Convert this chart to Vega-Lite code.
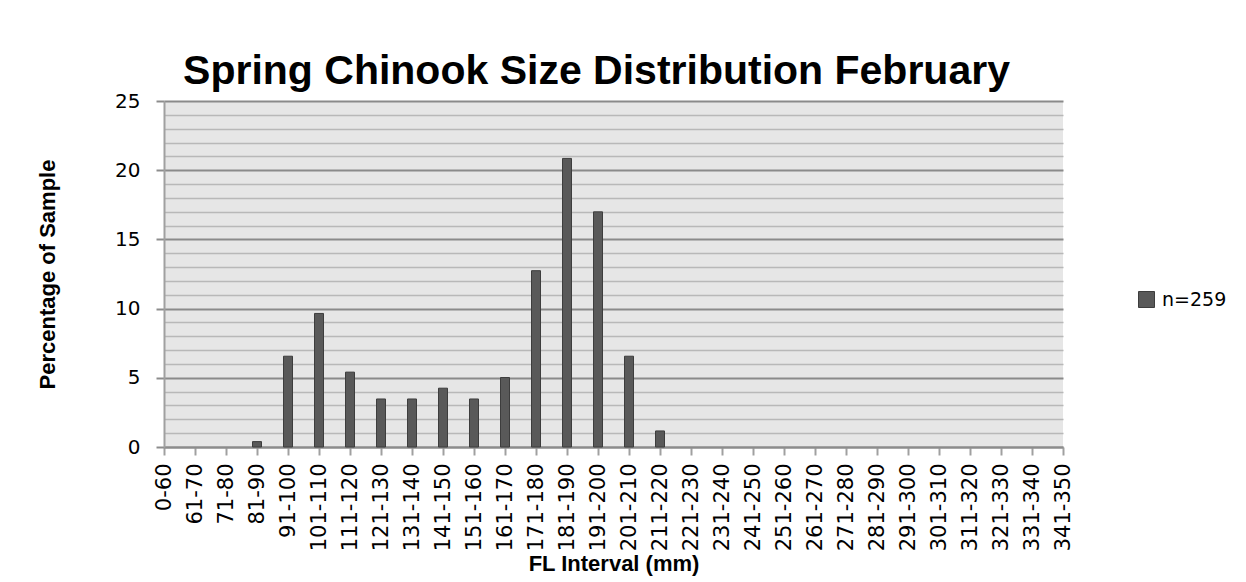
{
  "$schema": "https://vega.github.io/schema/vega-lite/v6.json",
  "width": 899,
  "height": 346,
  "autosize": {"type": "none"},
  "padding": {"left": 164, "top": 101, "right": 183, "bottom": 135},
  "background": "white",
  "title": {
    "text": "Spring Chinook Size Distribution February",
    "font": "Liberation Sans",
    "fontSize": 41,
    "fontWeight": "bold",
    "color": "#000000",
    "anchor": "middle",
    "baseline": "bottom",
    "offset": -43,
    "dx": -17
  },
  "data": {
    "values": [
      {"interval": "0-60", "pct": 0, "series": "n=259"},
      {"interval": "61-70", "pct": 0, "series": "n=259"},
      {"interval": "71-80", "pct": 0, "series": "n=259"},
      {"interval": "81-90", "pct": 0.39, "series": "n=259"},
      {"interval": "91-100", "pct": 6.56, "series": "n=259"},
      {"interval": "101-110", "pct": 9.65, "series": "n=259"},
      {"interval": "111-120", "pct": 5.41, "series": "n=259"},
      {"interval": "121-130", "pct": 3.47, "series": "n=259"},
      {"interval": "131-140", "pct": 3.47, "series": "n=259"},
      {"interval": "141-150", "pct": 4.25, "series": "n=259"},
      {"interval": "151-160", "pct": 3.47, "series": "n=259"},
      {"interval": "161-170", "pct": 5.02, "series": "n=259"},
      {"interval": "171-180", "pct": 12.74, "series": "n=259"},
      {"interval": "181-190", "pct": 20.85, "series": "n=259"},
      {"interval": "191-200", "pct": 16.99, "series": "n=259"},
      {"interval": "201-210", "pct": 6.56, "series": "n=259"},
      {"interval": "211-220", "pct": 1.16, "series": "n=259"},
      {"interval": "221-230", "pct": 0, "series": "n=259"},
      {"interval": "231-240", "pct": 0, "series": "n=259"},
      {"interval": "241-250", "pct": 0, "series": "n=259"},
      {"interval": "251-260", "pct": 0, "series": "n=259"},
      {"interval": "261-270", "pct": 0, "series": "n=259"},
      {"interval": "271-280", "pct": 0, "series": "n=259"},
      {"interval": "281-290", "pct": 0, "series": "n=259"},
      {"interval": "291-300", "pct": 0, "series": "n=259"},
      {"interval": "301-310", "pct": 0, "series": "n=259"},
      {"interval": "311-320", "pct": 0, "series": "n=259"},
      {"interval": "321-330", "pct": 0, "series": "n=259"},
      {"interval": "331-340", "pct": 0, "series": "n=259"},
      {"interval": "341-350", "pct": 0, "series": "n=259"}
    ]
  },
  "mark": {"type": "bar", "width": 9, "stroke": "#3d3d3d", "strokeWidth": 1},
  "encoding": {
    "x": {
      "field": "interval",
      "type": "nominal",
      "sort": null,
      "scale": {"type": "point", "padding": 0},
      "axis": {
        "title": "FL Interval (mm)",
        "labelAngle": -90,
        "labelFont": "DejaVu Sans",
        "labelFontSize": 21,
        "labelColor": "#000000",
        "labelPadding": 8,
        "labelOverlap": false,
        "tickSize": 8,
        "tickColor": "#a0a0a0",
        "tickWidth": 2,
        "domainColor": "#8c8c8c",
        "domainWidth": 2,
        "grid": false,
        "titleFont": "Liberation Sans",
        "titleFontWeight": "bold",
        "titleFontSize": 22,
        "titleColor": "#000000",
        "titlePadding": 3
      }
    },
    "y": {
      "field": "pct",
      "type": "quantitative",
      "scale": {"domain": [0, 25], "nice": false},
      "axis": {
        "title": "Percentage of Sample",
        "values": [0, 1, 2, 3, 4, 5, 6, 7, 8, 9, 10, 11, 12, 13, 14, 15, 16, 17, 18, 19, 20, 21, 22, 23, 24, 25],
        "labelExpr": "datum.value % 5 === 0 ? datum.label : ''",
        "labelFont": "DejaVu Sans",
        "labelFontSize": 20,
        "labelColor": "#000000",
        "labelPadding": 16,
        "tickSize": 8,
        "tickWidth": 2,
        "tickColor": "#8c8c8c",
        "tickOpacity": {"condition": {"test": "datum.value % 5 === 0", "value": 1}, "value": 0},
        "grid": true,
        "gridColor": {"condition": {"test": "datum.value % 5 === 0", "value": "#8a8a8a"}, "value": "#b8b8b8"},
        "gridWidth": {"condition": {"test": "datum.value % 5 === 0", "value": 2}, "value": 1.5},
        "domainColor": "#a0a0a0",
        "domainWidth": 2,
        "titleFont": "Liberation Sans",
        "titleFontWeight": "bold",
        "titleFontSize": 22,
        "titleColor": "#000000",
        "titlePadding": 55
      }
    },
    "color": {
      "field": "series",
      "type": "nominal",
      "scale": {"range": ["#595959"]},
      "legend": {
        "title": null,
        "orient": "none",
        "legendX": 973,
        "legendY": 189,
        "symbolType": "square",
        "symbolSize": 256,
        "symbolStrokeColor": "#3d3d3d",
        "symbolStrokeWidth": 1,
        "labelFont": "DejaVu Sans",
        "labelFontSize": 19,
        "labelColor": "#000000",
        "labelOffset": 6
      }
    },
    "strokeOpacity": {"condition": {"test": "datum.pct > 0", "value": 1}, "value": 0}
  },
  "config": {
    "view": {"fill": "#e6e6e6", "stroke": null}
  }
}
